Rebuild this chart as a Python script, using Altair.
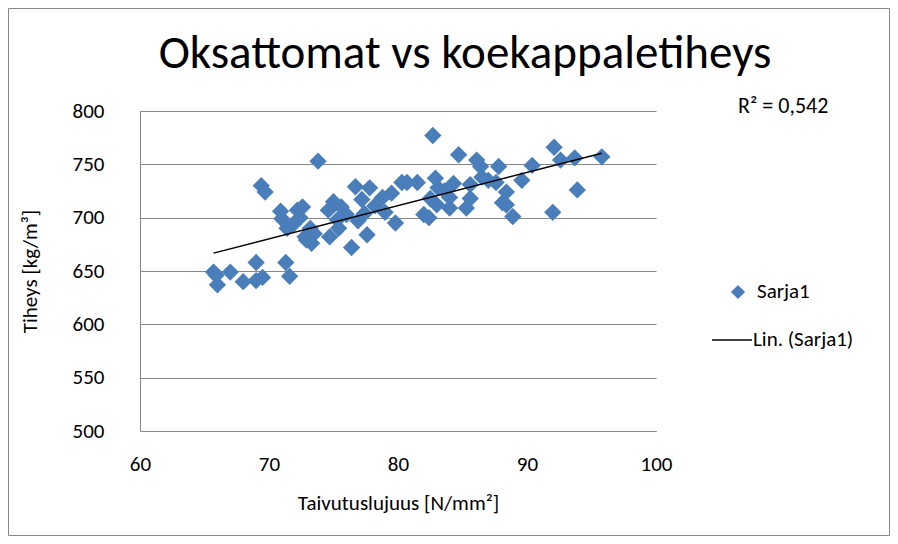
import altair as alt
import pandas as pd

# Taivutuslujuus [N/mm²]
x_vals = [65.7, 66.0, 65.9, 67.0, 68.0, 69.0, 69.0, 69.5, 71.3, 71.6, 69.4, 69.7,
          70.9, 71.0, 71.4, 71.9, 72.2, 72.4, 72.6, 72.8, 73.3, 73.2, 72.9, 73.8, 73.5,
          74.6, 75.0, 75.3, 74.7, 75.6, 76.0, 76.4, 76.7, 77.2, 77.4, 77.6, 77.8, 78.2,
          78.8, 79.0, 79.5, 79.8, 80.3, 76.9, 75.4,
          80.7, 81.5, 82.0, 82.4, 82.7, 82.9, 83.1, 82.5, 83.0, 83.6, 84.0, 84.0, 84.3,
          84.7, 85.3, 85.6, 85.6, 86.1, 86.5, 86.4, 87.0, 87.6, 87.8, 88.4, 88.1, 88.4,
          88.9, 89.6, 90.4, 92.1, 92.0, 92.6, 93.7, 93.9, 95.8]
# Tiheys [kg/m³]
y_vals = [649, 637, 646, 649, 640, 641, 658, 644, 658, 645, 730, 724,
          706, 699, 690, 694, 707, 700, 710, 682, 676, 690, 679, 753, 685,
          707, 715, 698, 682, 710, 703, 672, 729, 717, 704, 684, 728, 711,
          719, 705, 723, 695, 733, 697, 690,
          733, 733, 703, 700, 777, 737, 728, 718, 712, 725, 719, 709, 732,
          759, 709, 731, 718, 754, 738, 748, 735, 733, 748, 724, 714, 712,
          701, 735, 749, 766, 705, 754, 756, 726, 757]

x_ticks = [60, 70, 80, 90, 100]
y_ticks = [500, 550, 600, 650, 700, 750, 800]
series_name = "Sarja1"
trend_name = "Lin. (Sarja1)"
r2_label = "R² = 0,542"
title_text = "Oksattomat vs koekappaletiheys"
x_title = "Taivutuslujuus [N/mm²]"
y_title = "Tiheys [kg/m³]"

df = pd.DataFrame({"x": x_vals, "y": y_vals})

FONT = "Carlito, Calibri, Lato, sans-serif"
BLUE = "#4A7EBB"
GRID = "#868686"

W, H = 516, 320
PL, PT = 132, 103
TOTAL_W, TOTAL_H = 882, 528

xs = alt.Scale(domain=[60, 100], nice=False, zero=False)
ys = alt.Scale(domain=[500, 800], nice=False, zero=False)

base = alt.Chart(df)

points = base.mark_point(shape="diamond", filled=True, size=300, color=BLUE, opacity=1).encode(
    x=alt.X("x:Q", scale=xs,
            axis=alt.Axis(values=x_ticks, title=x_title, grid=False, ticks=False,
                          domainColor=GRID, labelFontSize=21, labelPadding=22,
                          labelFlush=False, labelOverlap=False,
                          labelFont=FONT, titleFont=FONT, labelColor="black", titleColor="black",
                          titleFontSize=21, titleFontWeight="normal",
                          titleX=W / 2, titleY=72, titleBaseline="middle")),
    y=alt.Y("y:Q", scale=ys,
            axis=alt.Axis(values=y_ticks, title=y_title, grid=True, gridColor=GRID,
                          ticks=False, domainColor=GRID, labelFontSize=21, labelPadding=36,
                          labelFlush=False, labelOverlap=False,
                          labelFont=FONT, titleFont=FONT, labelColor="black", titleColor="black",
                          titleFontSize=21, titleFontWeight="normal",
                          titleX=-110, titleY=H / 2, titleAngle=-90,
                          titleBaseline="middle", titleAlign="center")),
)

trend = base.transform_regression("x", "y").mark_line(color="black", strokeWidth=1.5).encode(
    x=alt.X("x:Q", scale=xs), y=alt.Y("y:Q", scale=ys)
)

one = alt.Data(values=[{}])

title = alt.Chart(one).mark_text(text=title_text, font=FONT, fontSize=47, baseline="alphabetic",
                                 align="center", color="black").encode(
    x=alt.value(325), y=alt.value(-43))

r2 = alt.Chart(one).mark_text(text=r2_label, font=FONT, fontSize=22, baseline="middle",
                              align="left", color="black").encode(
    x=alt.value(598), y=alt.value(-5))

leg_pt = alt.Chart(one).mark_point(shape="diamond", filled=True, size=200, color=BLUE, opacity=1).encode(
    x=alt.value(598), y=alt.value(181))
leg_pt_txt = alt.Chart(one).mark_text(text=series_name, font=FONT, fontSize=21, baseline="middle",
                                      align="left", color="black").encode(
    x=alt.value(617), y=alt.value(181))
leg_line = alt.Chart(one).mark_rule(color="black", strokeWidth=1.5).encode(
    x=alt.value(572), x2=alt.value(612), y=alt.value(229))
leg_line_txt = alt.Chart(one).mark_text(text=trend_name, font=FONT, fontSize=21, baseline="middle",
                                        align="left", color="black").encode(
    x=alt.value(613), y=alt.value(229))

border = alt.Chart(one).mark_rect(filled=False, stroke=GRID, strokeWidth=1).encode(
    x=alt.value(-PL + 0.5), x2=alt.value(TOTAL_W - PL - 0.5),
    y=alt.value(-PT + 0.5), y2=alt.value(TOTAL_H - PT - 0.5))

chart = alt.layer(border, points, trend, title, r2, leg_pt, leg_pt_txt, leg_line, leg_line_txt).properties(
    width=W, height=H,
    background="white",
    autosize=alt.AutoSizeParams(type="none"),
    padding={"left": PL, "top": PT, "right": TOTAL_W - PL - W, "bottom": TOTAL_H - PT - H},
).configure_view(stroke=None)

chart.save("out.html", embed_options={"renderer": "svg", "actions": False})
